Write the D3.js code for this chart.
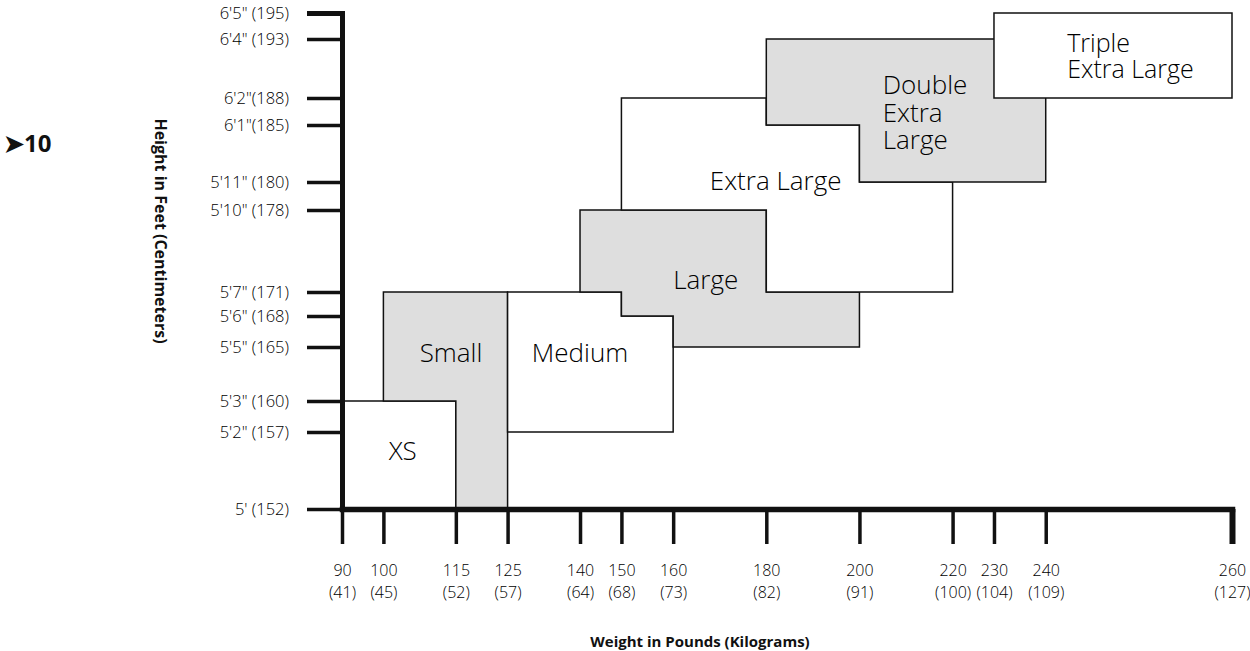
<!DOCTYPE html>
<html lang="en">
<head>
  <meta charset="UTF-8" />
  <title>Size chart | Height and weight</title>
  <script src="https://cdn.jsdelivr.net/npm/d3@7/dist/d3.min.js"></script>
  <style>
    html, body { margin: 0; padding: 0; background: #fff; }
    body { font-family: "Open Sans", "Noto Sans", Arial, sans-serif; color: #1a1a1a; }
    svg { display: block; }
  </style>
</head>
<body>
  <div id="chart"></div>
  <script>
    // axis ticks
    const weightLb = [90, 100, 115, 125, 140, 150, 160, 180, 200, 220, 230, 240, 260];
    const weightKg = [41, 45, 52, 57, 64, 68, 73, 82, 91, 100, 104, 109, 127];
    const heightCm = [152, 157, 160, 165, 168, 171, 178, 180, 185, 188, 193, 195];
    const heightLabels = ["5' (152)", "5'2\" (157)", "5'3\" (160)", "5'5\" (165)", "5'6\" (168)", "5'7\" (171)",
      "5'10\" (178)", "5'11\" (180)", "6'1\"(185)", "6'2\"(188)", "6'4\" (193)", "6'5\" (195)"];

    // size regions, outline corners as [pounds, cm]
    const sizeNames = ["XS", "Small", "Medium", "Large", "Extra Large", "Double Extra Large", "Triple Extra Large"];
    const sizeOutlines = [
      [[90, 152], [90, 160], [115, 160], [115, 152]],
      [[100, 160], [100, 171], [125, 171], [125, 152], [115, 152], [115, 160]],
      [[125, 157], [125, 171], [150, 171], [150, 168], [160, 168], [160, 157]],
      [[140, 171], [140, 178], [180, 178], [180, 171], [200, 171], [200, 165], [160, 165], [160, 168], [150, 168], [150, 171]],
      [[150, 178], [150, 188], [180, 188], [180, 185], [200, 185], [200, 180], [220, 180], [220, 171], [180, 171], [180, 178]],
      [[180, 185], [180, 193], [240, 193], [240, 180], [200, 180], [200, 185]],
      [[230, 188], [230, 195], [260, 195], [260, 188]]
    ];
    const sizeLabelLines = [["XS"], ["Small"], ["Medium"], ["Large"], ["Extra Large"], ["Double", "Extra", "Large"], ["Triple", "Extra Large"]];
    // where each label sits, in [pounds, cm]
    const sizeLabelAt = [[104, 155.8], [114, 164.5], [140, 164.5], [167, 172], [182, 180.1], [205, 188.3], [242.3, 191.9]];

    const width = 1250, height = 651;
    const ink = "#111";
    const font = "\"Open Sans\", \"Noto Sans\", sans-serif";

    const svg = d3.select("#chart").append("svg")
      .attr("width", width)
      .attr("height", height);

    // weight is laid out evenly in kg; the height axis is drawn unevenly, so use a polylinear scale
    const x = d3.scaleLinear().domain([weightKg[0], weightKg[weightKg.length - 1]]).range([342, 1232]);
    const lbToKg = d3.scaleLinear().domain(weightLb).range(weightKg);
    const px = lb => x(lbToKg(lb));
    const heightTickY = [509, 432, 401, 347, 316, 292, 210, 182, 125, 98, 39, 13];
    const y = d3.scaleLinear().domain(heightCm).range(heightTickY);
    const baseY = y(heightCm[0]);

    // regions
    const line = d3.line();
    svg.append("g").selectAll("path")
      .data(sizeOutlines)
      .join("path")
      .attr("d", pts => line(pts.map(([lb, cm]) => [px(lb), y(cm)])) + "Z")
      .attr("fill", (d, i) => i % 2 ? "#dedede" : "#fff")
      .attr("stroke", ink)
      .attr("stroke-width", 1.5)
      .attr("stroke-linejoin", "miter");

    // region labels
    const labels = svg.append("g")
      .attr("fill", "#000")
      .attr("font-weight", 300)
      .selectAll("text")
      .data(sizeNames)
      .join("text")
      .attr("x", (d, i) => px(sizeLabelAt[i][0]))
      .attr("y", (d, i) => y(sizeLabelAt[i][1]))
      .attr("text-anchor", (d, i) => sizeLabelLines[i].length > 1 ? "start" : "middle")
      .attr("font-size", (d, i) => i === 6 ? 25 : 26);
    labels.each(function(d, i) {
      const t = d3.select(this);
      const lines = sizeLabelLines[i];
      if (lines.length === 1) {
        t.append("tspan").attr("dy", "0.35em").text(lines[0]);
      } else {
        lines.forEach((s, j) => {
          t.append("tspan").attr("x", px(sizeLabelAt[i][0])).attr("dy", j ? "1.05em" : 0).text(s);
        });
      }
    });

    // y axis
    const yAxis = svg.append("g")
      .attr("transform", `translate(${x(weightKg[0])},0)`)
      .call(d3.axisLeft(y).tickValues(heightCm).tickFormat((d, i) => heightLabels[i])
        .tickSize(35).tickSizeOuter(0).tickPadding(18));
    yAxis.select(".domain").attr("stroke", ink).attr("stroke-width", 5).attr("stroke-linecap", "square");
    yAxis.selectAll(".tick line").attr("stroke", ink).attr("stroke-width", 3.5);
    yAxis.selectAll(".tick").filter(d => d === heightCm[heightCm.length - 1]).select("line").attr("stroke-width", 5);
    yAxis.selectAll(".tick text")
      .attr("font-family", font)
      .attr("font-weight", 300)
      .attr("font-size", 16.5)
      .attr("fill", "#000");

    // x axis
    const xAxis = svg.append("g")
      .attr("transform", `translate(0,${baseY})`)
      .call(d3.axisBottom(x).tickValues(weightKg).tickFormat("").tickSize(35).tickSizeOuter(0));
    xAxis.select(".domain").attr("stroke", ink).attr("stroke-width", 5.5).attr("stroke-linecap", "square");
    xAxis.selectAll(".tick line").attr("stroke", ink).attr("stroke-width", 3.5);
    xAxis.selectAll(".tick").filter(d => d === weightKg[weightKg.length - 1]).select("line").attr("stroke-width", 6);
    const xLab = xAxis.selectAll(".tick").append("text")
      .attr("fill", "#000")
      .attr("font-family", font)
      .attr("font-weight", 300)
      .attr("font-size", 16)
      .attr("text-anchor", "middle");
    xLab.append("tspan").attr("x", 0).attr("y", 67).text((d, i) => weightLb[i]);
    xLab.append("tspan").attr("x", 0).attr("y", 89).text(d => `(${d})`);

    // axis titles
    svg.append("text")
      .attr("transform", `translate(161,${(y(heightCm[heightCm.length - 1]) + baseY) / 2 - 30}) rotate(90)`)
      .attr("text-anchor", "middle")
      .attr("font-size", 16)
      .attr("font-weight", "bold")
      .attr("fill", ink)
      .attr("dy", "0.35em")
      .text("Height in Feet (Centimeters)");

    svg.append("text")
      .attr("x", (x.range()[0] + x.range()[1]) / 2 - 87)
      .attr("y", 647)
      .attr("text-anchor", "middle")
      .attr("font-size", 15)
      .attr("font-weight", "bold")
      .attr("fill", ink)
      .text("Weight in Pounds (Kilograms)");

    // page marker
    svg.append("text")
      .attr("x", 4)
      .attr("y", 152)
      .attr("font-size", 24)
      .attr("font-weight", "bold")
      .attr("fill", ink)
      .text("➤10");
  </script>
</body>
</html>
